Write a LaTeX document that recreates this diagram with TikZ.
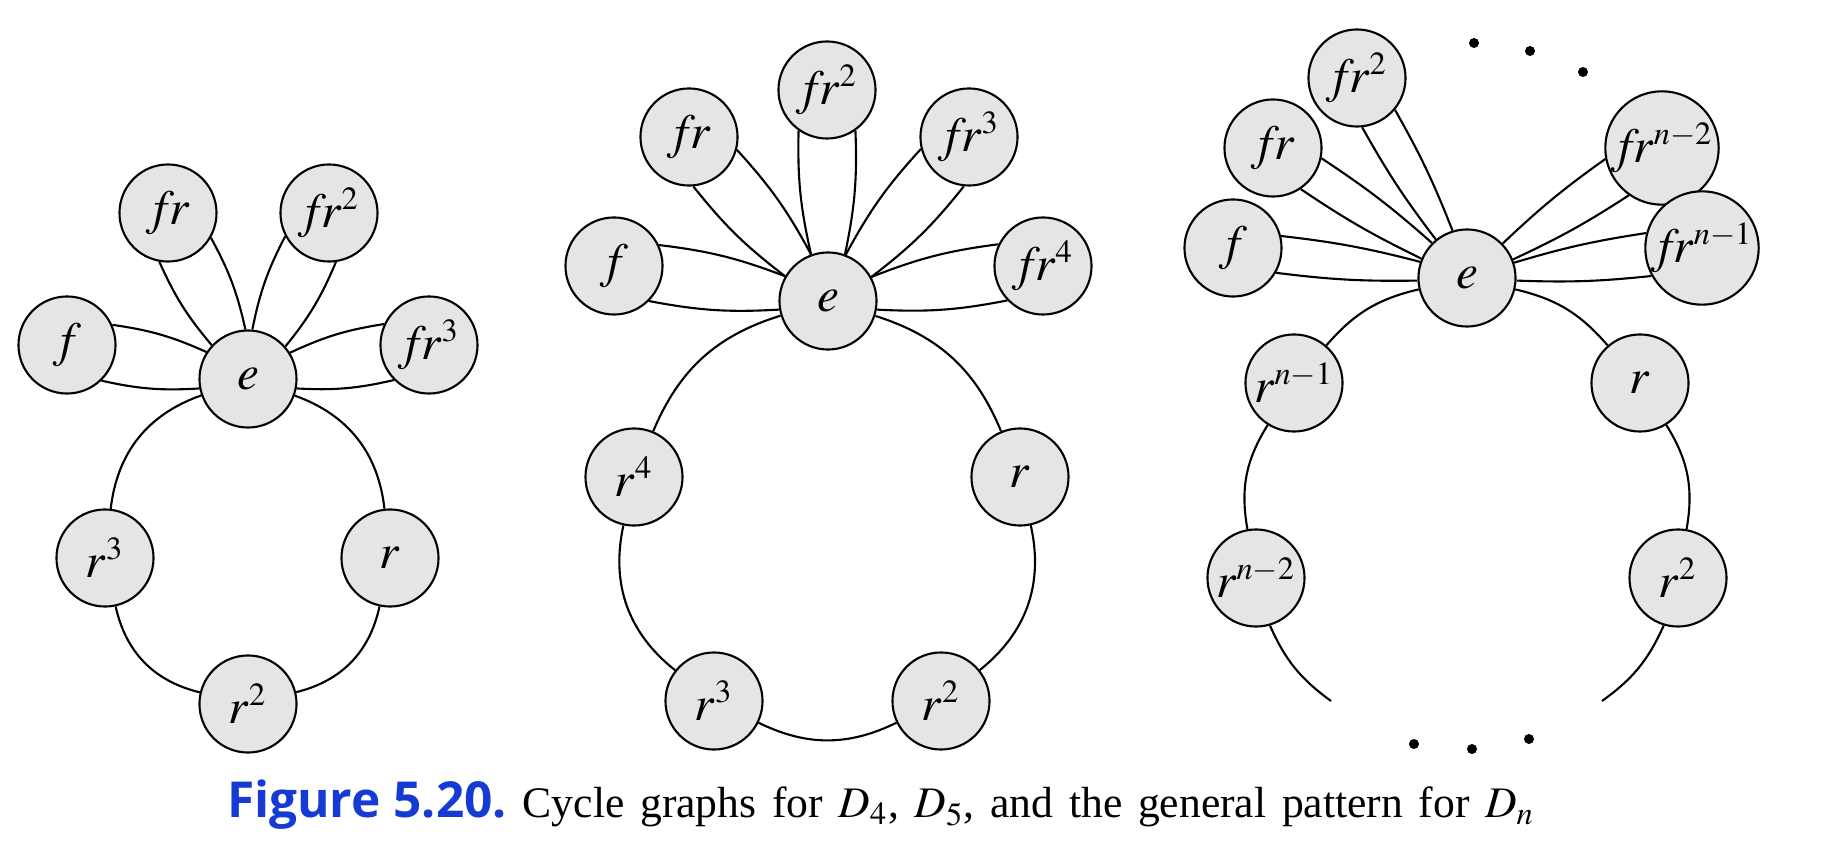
\documentclass[tikz,border=0pt]{standalone}
\usepackage{mathptmx}
\usepackage{fontspec}
\setmainfont{Liberation Serif}
\newfontfamily\figfont{Open Sans}
\usetikzlibrary{calc}
\definecolor{figblue}{RGB}{22,58,212}
\DeclareMathSizes{14}{14}{9.2}{7}

% two curved edges between #1 and #2: spread at #1, spread at #2, bend
\newcommand{\petal}[5]{%
  \draw let \p1=($(#2)-(#1)$), \n1={atan2(\y1,\x1)},
      \n2={\n1+#3}, \n3={\n1-#3}, \n4={\n1+180-#4}, \n5={\n1+180+#4} in
    (#1.\n2) to[bend left=#5] (#2.\n4)
    (#1.\n3) to[bend right=#5] (#2.\n5);
}

\tikzset{
  elem/.style={circle, draw, fill=gray!20, minimum size=0.97cm, inner sep=0pt,
    font=\fontsize{14}{16}\selectfont},
  dot/.style={circle, fill, inner sep=0pt, minimum size=0.1cm},
}

\begin{document}
\begin{tikzpicture}[x=0.01cm, y=-0.01cm, line width=0.6pt]
\useasboundingbox (0,0) rectangle (1832,858);

% D_4
\node[elem] (ae) at (248,379) {$e$};
\node[elem] (af) at (67,345) {$f$};
\node[elem] (afr) at (168,213) {$f\!r$};
\node[elem] (afr2) at (329,213) {$f\!r^2$};
\node[elem] (afr3) at (429,345) {$f\!r^3$};
\node[elem] (ar) at (390,558) {$r$};
\node[elem] (ar2) at (248,704) {$r^2$};
\node[elem] (ar3) at (105,558) {$r^3$};

\draw (ae) to[bend left=32] (ar);
\draw (ar) to[bend left=32] (ar2);
\draw (ar2) to[bend left=32] (ar3);
\draw (ar3) to[bend left=32] (ae);
\petal{ae}{af}{22}{35}{8}
\petal{ae}{afr}{22}{35}{8}
\petal{ae}{afr2}{22}{35}{8}
\petal{ae}{afr3}{22}{35}{8}

% D_5
\node[elem] (be) at (828,301) {$e$};
\node[elem] (bf) at (614,266) {$f$};
\node[elem] (bfr) at (689,137) {$f\!r$};
\node[elem] (bfr2) at (827,90) {$f\!r^2$};
\node[elem] (bfr3) at (969,137) {$f\!r^3$};
\node[elem] (bfr4) at (1043,266) {$f\!r^4$};
\node[elem] (br) at (1020,477) {$r$};
\node[elem] (br2) at (941,701) {$r^2$};
\node[elem] (br3) at (714,701) {$r^3$};
\node[elem] (br4) at (634,477) {$r^4$};

\draw (be) to[bend left=25] (br);
\draw (br) to[bend left=32] (br2);
\draw (br2) to[bend left=26] (br3);
\draw (br3) to[bend left=32] (br4);
\draw (br4) to[bend left=25] (be);
\petal{be}{bf}{20}{35}{7}
\petal{be}{bfr}{20}{35}{7}
\petal{be}{bfr2}{20}{35}{7}
\petal{be}{bfr3}{20}{35}{7}
\petal{be}{bfr4}{20}{35}{7}

% D_n
\node[elem] (ce) at (1467,278) {$e$};
\node[elem] (cf) at (1233,248) {$f$};
\node[elem] (cfr) at (1273,148) {$f\!r$};
\node[elem] (cfr2) at (1357,78) {$f\!r^2$};
\node[elem] (cfrm2) at (1662,148) {$f\!r^{n-2}$};
\node[elem] (cfrm1) at (1702,248) {$f\!r^{n-1}$};
\node[elem] (cr) at (1640,383) {$r$};
\node[elem] (cr2) at (1678,578) {$r^2$};
\node[elem] (crm1) at (1294,383) {$r^{n-1}$};
\node[elem] (crm2) at (1256,578) {$r^{n-2}$};
\coordinate (cendr) at (1602,701);
\coordinate (cendl) at (1331,701);

\draw (ce) to[bend left=18] (cr);
\draw (cr) to[bend left=21] (cr2);
\draw (cr2) to[bend left=15] (cendr);
\draw (ce) to[bend right=18] (crm1);
\draw (crm1) to[bend right=21] (crm2);
\draw (crm2) to[bend right=15] (cendl);
\petal{ce}{cf}{11}{22}{4}
\petal{ce}{cfr}{11}{22}{4}
\petal{ce}{cfr2}{11}{22}{4}
\petal{ce}{cfrm2}{11}{22}{4}
\petal{ce}{cfrm1}{11}{22}{4}

\node[dot] (dt1) at (1474,43) {};
\node[dot] (dt2) at (1530,51) {};
\node[dot] (dt3) at (1583,72) {};
\node[dot] (db1) at (1414,744) {};
\node[dot] (db2) at (1472,749) {};
\node[dot] (db3) at (1529,739) {};

% caption
\node[anchor=base west, inner sep=0pt] (caption) at (226,818)
  {{\figfont\bfseries\fontsize{14.1}{17}\selectfont\color{figblue}Figure 5.20.}\hspace{0.16cm}%
   \fontsize{12.4}{14}\selectfont\spaceskip=4.45pt plus 1pt
   Cycle graphs for $D_4$, $D_5$, and the general pattern for $D_n$};
\end{tikzpicture}
\end{document}
